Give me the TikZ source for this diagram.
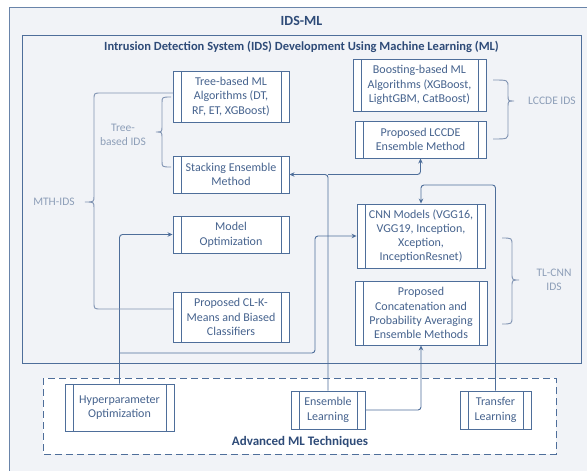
\documentclass[tikz,border=0pt]{standalone}
\usepackage{fontspec}
\setmainfont{Carlito}
\usetikzlibrary{arrows.meta}
\definecolor{bgc}{HTML}{F1F3F7}
\definecolor{linec}{HTML}{4E6E9A}
\definecolor{txtc}{HTML}{46638E}
\definecolor{titc}{HTML}{2E4B78}
\definecolor{labc}{HTML}{8D9EB8}
\definecolor{brcc}{HTML}{8093B2}
\begin{document}
\begin{tikzpicture}[x=1pt,y=-1pt,
  pp/.style={draw=linec, fill=white, line width=0.9pt, inner sep=0pt, align=center, text=txtc,
    font=\fontsize{12}{14.6}\selectfont,
    path picture={\draw[linec,line width=0.9pt]
      ([xshift=8pt]path picture bounding box.north west) -- ([xshift=8pt]path picture bounding box.south west)
      ([xshift=-8pt]path picture bounding box.north east) -- ([xshift=-8pt]path picture bounding box.south east);}},
  conn/.style={draw=linec, line width=0.9pt, rounded corners=3pt},
  arr/.style={-{Stealth[length=5pt,width=4.5pt]}},
  brc/.style={draw=brcc, line width=0.9pt},
  lab/.style={text=labc, align=center, font=\fontsize{11.5}{14.5}\selectfont},
  ttl/.style={text=titc, font=\bfseries\fontsize{12.5}{15}\selectfont},
]
\useasboundingbox (0,0) rectangle (587,471);
\clip (0,0) rectangle (587,471);
\fill[white] (0,0) rectangle (587,471);
% outer container
\draw[draw=linec!85, line width=0.9pt, fill=bgc] (9,7) rectangle (600,490);
\node[ttl, font=\bfseries\fontsize{14}{16}\selectfont] (t0) at (301.5,21) {IDS-ML};
% inner container
\draw[draw=linec, line width=0.9pt, fill=bgc] (22,35) rectangle (581,363);
\node[ttl] (t1) at (301.5,47) {Intrusion Detection System (IDS) Development Using Machine Learning (ML)};
% dashed container
\draw[draw=linec, line width=0.9pt, dash pattern=on 7pt off 4pt, fill=white] (43,378) rectangle (556,454);
\node[ttl, font=\bfseries\fontsize{13}{15}\selectfont] (t2) at (300,442) {Advanced ML Techniques};

% boxes
\node[pp, minimum width=116pt, minimum height=51pt] (tree) at (231,96.5) {Tree-based ML\\Algorithms (DT,\\RF, ET, XGBoost)};
\node[pp, minimum width=116pt, minimum height=37pt] (stack) at (231,174.5) {Stacking Ensemble\\Method};
\node[pp, minimum width=116pt, minimum height=37pt] (modopt) at (231,234.5) {Model\\Optimization};
\node[pp, minimum width=116pt, minimum height=50pt] (clk) at (231,317) {Proposed CL-K-\\Means and Biased\\Classifiers};
\node[pp, minimum width=133pt, minimum height=52pt] (boost) at (419.5,85) {Boosting-based ML\\Algorithms (XGBoost,\\LightGBM, CatBoost)};
\node[pp, minimum width=131pt, minimum height=37pt] (lccde) at (420.5,139.5) {Proposed LCCDE\\Ensemble Method};
\node[pp, minimum width=128pt, minimum height=64pt, font=\fontsize{12}{14.2}\selectfont] (cnn) at (421,236) {CNN Models (VGG16,\\VGG19, Inception,\\Xception,\\InceptionResnet)};
\node[pp, minimum width=132pt, minimum height=64pt, font=\fontsize{12}{14.2}\selectfont] (concat) at (421,313) {Proposed\\Concatenation and\\Probability Averaging\\Ensemble Methods};
\node[pp, minimum width=109pt, minimum height=47pt] (hyper) at (119.5,407.5) {Hyperparameter\\Optimization};
\node[pp, minimum width=74pt, minimum height=38pt] (ens) at (328,410) {Ensemble\\Learning};
\node[pp, minimum width=71pt, minimum height=38pt] (transfer) at (495.5,410) {Transfer\\Learning};

% connectors
\coordinate (h1) at (119.5,353);
\coordinate (h2) at (315,353);
\coordinate (trtop) at (495.5,185);
\draw[conn,arr] (hyper.north) |- (modopt.west);
\draw[conn,arr] (h1) -- (h2) |- (cnn.west);
\draw[conn,arr] (ens.north) |- (stack.east);
\draw[conn,arr] (ens.north |- stack.east) -| (lccde.south);
\draw[conn,arr] (ens.east) -| (concat.south);
\draw[conn,arr] (transfer.north) -- (trtop) -| (cnn.north);

% braces
\draw[brc] (171,97) .. controls (162,97) .. (162,103) -- (162,126) .. controls (162,132) .. (156,132)
  .. controls (162,132) .. (162,138) -- (162,161) .. controls (162,167) .. (171,167);
\draw[brc] (173,93) -- (101,93) .. controls (94,93) .. (94,100) -- (94,196) .. controls (94,202) .. (85,202)
  .. controls (94,202) .. (94,208) -- (94,302) .. controls (94,309) .. (101,309) -- (173,309);
\draw[brc] (493,80) .. controls (508,80) .. (508,87) -- (508,95) .. controls (508,101) .. (514,101)
  .. controls (508,101) .. (508,107) -- (508,132) .. controls (508,139) .. (493,139);
\draw[brc] (502,238) .. controls (512,238) .. (512,245) -- (512,273) .. controls (512,280) .. (519,280)
  .. controls (512,280) .. (512,287) -- (512,317) .. controls (512,324) .. (502,324);

% brace labels
\node[lab] (ltree) at (123,135) {Tree-\\based IDS};
\node[lab] (lmth) at (54,202) {MTH-IDS};
\node[lab] (llccde) at (552,101) {LCCDE IDS};
\node[lab] (ltl) at (554,280) {TL-CNN\\IDS};
\end{tikzpicture}
\end{document}
